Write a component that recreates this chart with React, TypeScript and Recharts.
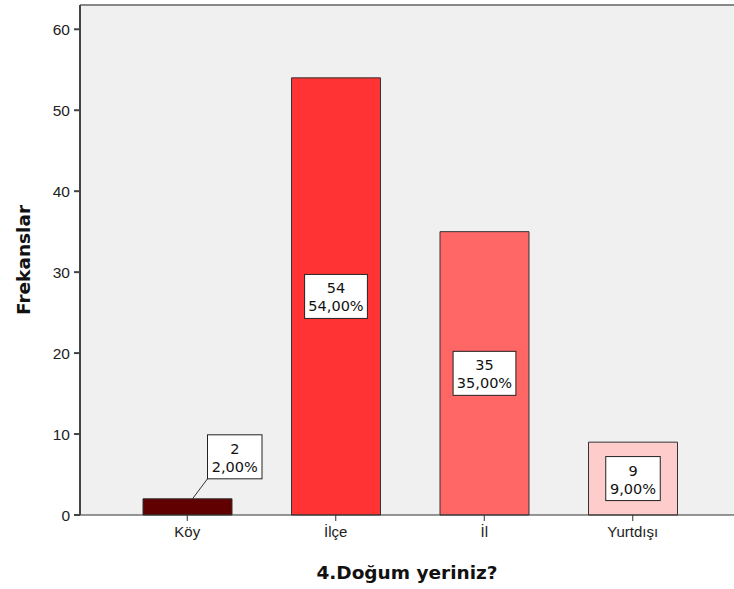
import { BarChart, Bar, XAxis, YAxis, CartesianGrid, Cell, LabelList, ReferenceLine } from "recharts";

const categories = ["Köy", "İlçe", "İl", "Yurtdışı"];
const counts = [2, 54, 35, 9];
const percents = ["2,00%", "54,00%", "35,00%", "9,00%"];
const yTicks = [0, 10, 20, 30, 40, 50, 60];

const barColors = ["#600000", "#ff3333", "#ff6666", "#ffcccc"];
const FONT = "'DejaVu Sans', Verdana, sans-serif";
const TICK_FONT = "'Liberation Sans', Arial, sans-serif";

const data = categories.map((name, i) => ({ name, value: counts[i], pct: percents[i] }));

// white box with count + percent, moved above the bar when the bar is too short
function BoxLabel(props: any) {
  const { x, y, width, height, index } = props;
  const line1 = String(counts[index]);
  const line2 = percents[index];
  const boxW = Math.max(line1.length, line2.length) * 8.3 + 13;
  const boxH = 44;
  const cx = x + width / 2;
  let left = cx - boxW / 2;
  let top = y + height / 2 - boxH / 2;
  let leader = null;
  if (height < boxH + 10) {
    left = cx + 20;
    top = y - 20 - boxH;
    leader = <line x1={cx + 5} y1={y} x2={left} y2={top + boxH} stroke="#333" strokeWidth={1} />;
  }
  return (
    <g>
      {leader}
      <rect x={left} y={top} width={boxW} height={boxH} fill="#fff" stroke="#222" strokeWidth={1} />
      <text x={left + boxW / 2} y={top + 19} textAnchor="middle" fontSize={14.5} fontFamily={FONT} fill="#111">
        {line1}
      </text>
      <text x={left + boxW / 2} y={top + 37} textAnchor="middle" fontSize={14.5} fontFamily={FONT} fill="#111">
        {line2}
      </text>
    </g>
  );
}

function YLabel(props: any) {
  const vb = props.viewBox;
  const cx = 23;
  const cy = vb.y + vb.height / 2;
  return (
    <text x={cx} y={cy} transform={`rotate(-90 ${cx} ${cy})`} textAnchor="middle" dominantBaseline="central"
      fontSize={18.5} fontWeight="bold" fontFamily={FONT} fill="#111">
      Frekanslar
    </text>
  );
}

function XLabel(props: any) {
  const vb = props.viewBox;
  const cx = vb.x + vb.width / 2;
  return (
    <text x={cx} y={579} textAnchor="middle" fontSize={18.5} fontWeight="bold" fontFamily={FONT} fill="#111">
      4.Doğum yeriniz?
    </text>
  );
}

export default function App() {
  return (
    <div style={{ position: "absolute", left: 0, top: 0, width: 734, height: 589, background: "#fff" }}>
      <BarChart width={734} height={589} data={data} margin={{ top: 5, right: 0, bottom: 0, left: 0 }} barSize={89}>
        <CartesianGrid fill="#f0f0f0" horizontal={false} vertical={false} />
        <XAxis
          dataKey="name"
          height={74}
          padding={{ left: 33, right: 27 }}
          tickSize={6}
          tickMargin={5}
          stroke="#333"
          fontSize={15}
          fontFamily={TICK_FONT}
          tick={{ fill: "#222", fontSize: 15, fontFamily: TICK_FONT }}
          label={<XLabel />}
        />
        <YAxis
          width={80}
          domain={[0, 63]}
          ticks={yTicks}
          tickSize={6}
          tickMargin={4}
          stroke="#444"
          strokeWidth={2}
          fontSize={15.5}
          fontFamily={TICK_FONT}
          tick={{ fill: "#222", fontSize: 15.5, fontFamily: TICK_FONT }}
          label={<YLabel />}
        />
        <ReferenceLine y={63} stroke="#888" strokeWidth={2} />
        <Bar dataKey="value" stroke="#333" strokeWidth={1} isAnimationActive={false}>
          {data.map((d, i) => (
            <Cell key={d.name} fill={barColors[i]} />
          ))}
          <LabelList dataKey="value" content={<BoxLabel />} />
        </Bar>
      </BarChart>
    </div>
  );
}
